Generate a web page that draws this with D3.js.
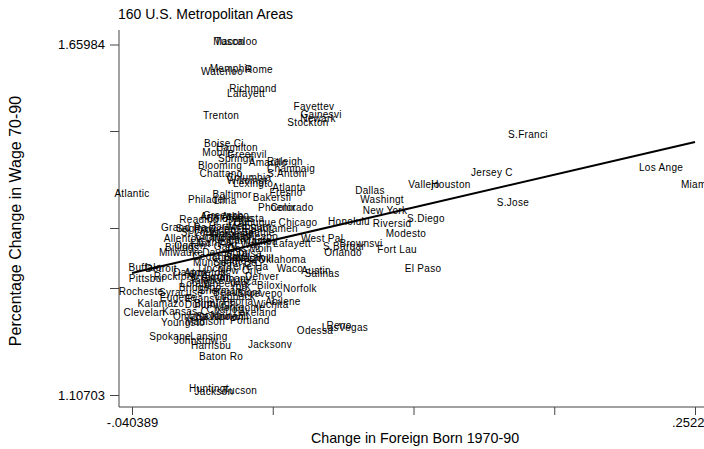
<!DOCTYPE html>
<html>
<head>
<meta charset="utf-8">
<script src="https://cdn.jsdelivr.net/npm/d3@7"></script>
<style>
  body { margin: 0; background: #fff; }
  text { font-family: "Liberation Sans", Arial, sans-serif; }
</style>
</head>
<body>
<div id="chart"></div>
<script>
// metro area names (8 char, as in the source data)
const cities = [
  "Tuscaloo","Macon","Waterloo","Memphis","Rome","Richmond","Lafayett","Trenton",
  "Fayettev","Gainesvi","Newark","Stockton","S.Franci","Boise Ci","Hamilton","Mobile",
  "Greenvil","Springfi","Amarillo","Raleigh","Champaig","S.Antoni","Blooming","Chattano",
  "Columbia","Wilmingt","Lexingto","Atlanta","Fresno","Baltimor","Bakersfi","Lima",
  "Philadel","Atlantic","Phoenix","Colorado","Dallas","Washingt","Vallejo","Houston",
  "Jersey C","Los Ange","Miami","S.Jose","New York","S.Diego","Honolulu","Riversid",
  "Modesto","Chicago","West Pal","Lafayett","S.Barbar","Brownsvi","Orlando","Fort Lau",
  "El Paso","Austin","Salinas","Waco","Oklahoma","Tulsa","Norfolk","Abilene",
  "Wichita","Reno","LasVegas","Odessa","Jacksonv","Baton Ro","Harrisbu","Johnstow",
  "Spokane","Lansing","Huntingt","Jackson","Tucson","Buffalo","Detroit","Appleton",
  "Dayton","Pittsbur","Rockford","Akron","Toledo","Albany","Denver","Rocheste",
  "Syracuse","Beaumont","Biloxi","Sherman","Eugene","Evansvil","Peoria","Kalamazo",
  "Clevelan","Kansas C","Charlott","Omaha","Knoxvill","Lynchbur","Youngsto","Madison",
  "Portland","Greensbo","Columbus","Augusta","Reading","Dubuque","Grand Ra","Sacramen",
  "St.Louis","Allentow","Cincinna","Lancaste","Indianap","Minneapo","Billings","Milwauke",
  "Louisvil","Little R","Nashvill","Boston","Hartford","Providen","Worceste","Saginaw",
  "Seattle","Canton","Flint","Gary","Fort Way","Davenpor","Des Moin","Cedar Ra",
  "South Be","Muncie","Terre Ha","Scranton","Utica","Lorain","Wheeling","York",
  "Bridgepo","Shrevepo","Duluth","Birmingh","Montgome","Lakeland","Savannah","Lubbock",
  "New Orle","Tampa","Melbourn","Charlest","Ogden","Ann Arbo","Lincoln","Salt Lak"
];

// change in foreign born share 1970-90
const foreignChange = [
  0.0137,0.0100,0.0064,0.0111,0.0256,0.0225,0.0189,0.0059,
  0.0542,0.0579,0.0563,0.0511,0.1654,0.0074,0.0142,0.0043,
  0.0194,0.0137,0.0303,0.0391,0.0423,0.0402,0.0054,0.0059,
  0.0204,0.0194,0.0225,0.0412,0.0397,0.0116,0.0324,0.0080,
  -0.0014,-0.040389,0.0350,0.0428,0.0833,0.0896,0.1114,0.1254,
  0.1467,0.2346,0.252239,0.1576,0.0911,0.1124,0.0724,0.0948,
  0.1020,0.0459,0.0584,0.0428,0.0698,0.0786,0.0693,0.0974,
  0.1109,0.0553,0.0584,0.0417,0.0376,0.0204,0.0469,0.0381,
  0.0319,0.0672,0.0703,0.0547,0.0313,0.0059,0.0007,-0.0071,
  -0.0206,-0.0004,-0.0004,0.0022,0.0158,-0.0336,-0.0253,-0.0024,
  -0.0102,-0.0326,-0.0180,0.0028,-0.0024,0.0132,0.0272,-0.0357,
  -0.0149,0.0142,0.0313,0.0054,-0.0165,-0.0024,0.0147,-0.0253,
  -0.0341,-0.0128,0.0080,-0.0102,0.0106,0.0002,-0.0139,-0.0024,
  0.0209,0.0085,0.0106,0.0183,-0.0056,0.0235,-0.0134,0.0334,
  -0.0050,-0.0134,0.0080,0.0209,0.0106,0.0235,-0.0144,-0.0149,
  0.0106,0.0158,0.0235,0.0158,0.0095,0.0028,0.0116,-0.0071,
  0.0251,0.0028,-0.0050,0.0080,0.0158,0.0080,0.0209,0.0028,
  0.0132,0.0002,0.0199,0.0002,0.0184,-0.0076,0.0080,0.0158,
  -0.0050,0.0262,-0.0050,0.0028,0.0158,0.0236,0.0054,0.0132,
  0.0158,0.0272,0.0209,0.0028,-0.0102,0.0064,0.0028,0.0184
];

// percentage change in wage 1970-90
const wageChange = [
  1.65984,1.6591,1.6117,1.6165,1.6149,1.5849,1.5770,1.5423,
  1.5565,1.5439,1.5376,1.5313,1.5124,1.4982,1.4919,1.4840,
  1.4808,1.4745,1.4682,1.4698,1.4587,1.4508,1.4635,1.4508,
  1.4445,1.4398,1.4351,1.4288,1.4209,1.4178,1.4130,1.4083,
  1.4098,1.4193,1.3972,1.3972,1.4240,1.4098,1.4335,1.4335,
  1.4524,1.4603,1.4335,1.4051,1.3925,1.3798,1.3751,1.3720,
  1.3562,1.3735,1.3483,1.3404,1.3357,1.3404,1.3262,1.3310,
  1.3010,1.2978,1.2931,1.3010,1.3152,1.3246,1.2694,1.2489,
  1.2442,1.2111,1.2079,1.2032,1.1811,1.1622,1.1795,1.1874,
  1.1937,1.1937,1.1117,1.10703,1.1086,1.3026,1.3010,1.2947,
  1.2947,1.2852,1.2884,1.2884,1.2821,1.2852,1.2884,1.2647,
  1.2631,1.2631,1.2742,1.2663,1.2552,1.2537,1.2489,1.2458,
  1.2316,1.2332,1.2363,1.2253,1.2253,1.2269,1.2158,1.2174,
  1.2190,1.3846,1.3798,1.3798,1.3783,1.3735,1.3657,1.3641,
  1.3578,1.3483,1.3483,1.3451,1.3515,1.3515,1.3341,1.3262,
  1.3183,1.3136,1.3168,1.3609,1.3672,1.3625,1.3562,1.3641,
  1.3578,1.3420,1.3404,1.3357,1.3388,1.3262,1.3325,1.3199,
  1.3105,1.3105,1.3041,1.2868,1.2805,1.2773,1.2773,1.2726,
  1.2710,1.2616,1.2442,1.2458,1.2395,1.2316,1.2253,1.2568,
  1.2978,1.3436,1.3672,1.3515,1.3373,1.3830,1.3010,1.3183
];

// axis ticks; only the ends carry labels
const xTicks = [-0.040389, 0.032768, 0.105925, 0.179082, 0.252239];
const xTickLabels = ["-.040389", "", "", "", ".252239"];
const yTicks = [1.65984, 1.5234, 1.3704, 1.2758, 1.10703];
const yTickLabels = ["1.65984", "", "", "", "1.10703"];

// fitted regression line
const fitIntercept = 1.3279;
const fitSlope = 0.7064;

const W = 704, H = 449;
const plotLeft = 119, plotTop = 30, plotBottom = 407;

const svg = d3.select("#chart").append("svg")
  .attr("width", W).attr("height", H);

svg.append("rect").attr("width", W).attr("height", H).attr("fill", "#fff");

const x = d3.scaleLinear().domain([-0.040389, 0.252239]).range([132, 695]);
const y = d3.scaleLinear().domain([1.10703, 1.65984]).range([395, 44.5]);

const data = cities.map((c, i) => ({ name: c, fx: foreignChange[i], wy: wageChange[i] }));

// title
svg.append("text")
  .attr("x", plotLeft - 1).attr("y", 19)
  .attr("font-size", 14).attr("fill", "#000")
  .text("160 U.S. Metropolitan Areas");

// axes lines
svg.append("line")
  .attr("x1", plotLeft).attr("x2", plotLeft)
  .attr("y1", plotTop).attr("y2", plotBottom)
  .attr("stroke", "#444").attr("stroke-width", 1);
svg.append("line")
  .attr("x1", plotLeft).attr("x2", W)
  .attr("y1", plotBottom).attr("y2", plotBottom)
  .attr("stroke", "#444").attr("stroke-width", 1);

const yAxis = d3.axisLeft(y)
  .tickValues(yTicks)
  .tickSize(9)
  .tickPadding(5)
  .tickFormat((d, i) => yTickLabels[i]);
const gy = svg.append("g")
  .attr("transform", `translate(${plotLeft},0)`)
  .call(yAxis);
gy.select(".domain").remove();
gy.selectAll(".tick line").attr("stroke", "#444");
gy.selectAll(".tick text")
  .attr("font-size", 13).attr("fill", "#000")
  .style("font-family", "Liberation Sans, Arial, sans-serif");

const xAxis = d3.axisBottom(x)
  .tickValues(xTicks)
  .tickSize(8)
  .tickPadding(3)
  .tickFormat((d, i) => xTickLabels[i]);
const gx = svg.append("g")
  .attr("transform", `translate(0,${plotBottom})`)
  .call(xAxis);
gx.select(".domain").remove();
gx.selectAll(".tick line").attr("stroke", "#444");
gx.selectAll(".tick text")
  .attr("font-size", 13).attr("fill", "#000")
  .style("font-family", "Liberation Sans, Arial, sans-serif");

// axis titles
svg.append("text")
  .attr("x", 415).attr("y", 443)
  .attr("text-anchor", "middle")
  .attr("font-size", 14.3).attr("fill", "#000")
  .text("Change in Foreign Born 1970-90");

svg.append("text")
  .attr("transform", `translate(21,221) rotate(-90)`)
  .attr("text-anchor", "middle")
  .attr("font-size", 16).attr("fill", "#000")
  .text("Percentage Change in Wage 70-90");

// labels as markers
svg.append("g").selectAll("text")
  .data(data)
  .join("text")
  .attr("x", d => x(d.fx))
  .attr("y", d => y(d.wy))
  .attr("text-anchor", "middle")
  .attr("font-size", 10)
  .attr("letter-spacing", 0.3)
  .attr("fill", "#000")
  .text(d => d.name);

// fitted line
const xr = d3.extent(foreignChange);
svg.append("line")
  .attr("x1", x(xr[0])).attr("y1", y(fitIntercept + fitSlope * xr[0]))
  .attr("x2", x(xr[1])).attr("y2", y(fitIntercept + fitSlope * xr[1]))
  .attr("stroke", "#000").attr("stroke-width", 2);
</script>
</body>
</html>
